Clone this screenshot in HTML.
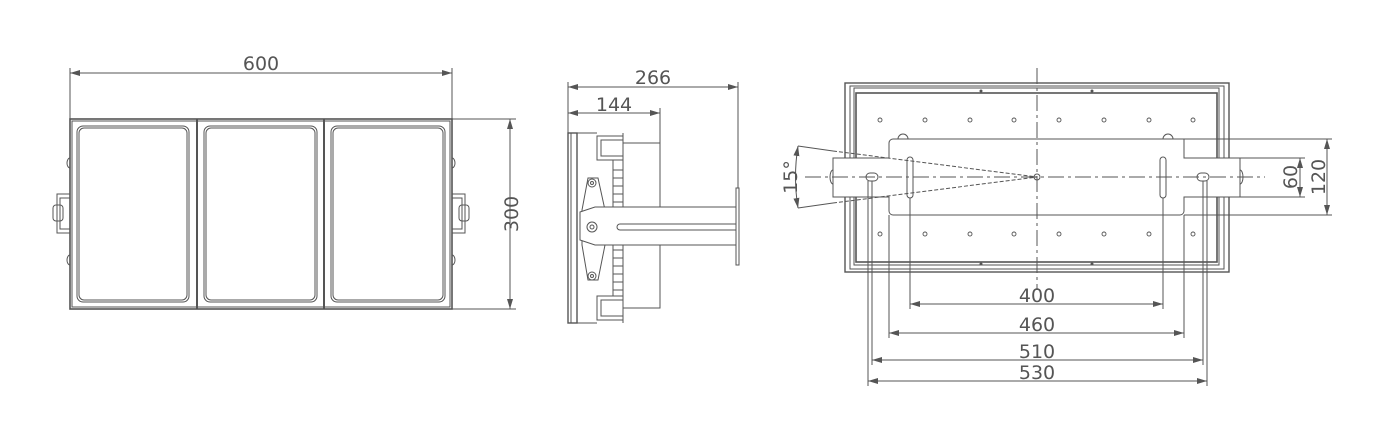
<!DOCTYPE html>
<html><head><meta charset="utf-8"><style>
html,body{margin:0;padding:0;background:#fff;}
svg{display:block}
text{font-family:"DejaVu Sans","Liberation Sans",sans-serif;fill:#555;stroke:none;font-size:19px}
</style></head><body>
<svg width="1395" height="434" viewBox="0 0 1395 434" xmlns="http://www.w3.org/2000/svg" fill="none" stroke="#555" stroke-width="1">
<defs>
<marker id="a" viewBox="0 0 10 6" refX="10" refY="3" markerWidth="10" markerHeight="6" orient="auto-start-reverse"><path d="M0,0 L10,3 L0,6 z" fill="#555" stroke="none"/></marker>
</defs>
<!-- FRONT VIEW -->
<line x1="70" y1="73" x2="452" y2="73" marker-start="url(#a)" marker-end="url(#a)"/>
<line x1="70" y1="68" x2="70" y2="119"/><line x1="452" y1="68" x2="452" y2="119"/>
<text x="261" y="70" text-anchor="middle">600</text>
<line x1="510" y1="119" x2="510" y2="309" marker-start="url(#a)" marker-end="url(#a)"/>
<line x1="452" y1="119" x2="516" y2="119"/><line x1="452" y1="309" x2="516" y2="309"/>
<text transform="translate(518,214) rotate(-90)" text-anchor="middle">300</text>
<rect x="70" y="119" width="382" height="190" stroke-width="1.6"/>
<rect x="72" y="121" width="378" height="186"/>
<line x1="197" y1="119" x2="197" y2="309" stroke-width="2"/>
<line x1="324" y1="119" x2="324" y2="309" stroke-width="2"/>
<rect x="77" y="126" width="112" height="176" rx="6"/><rect x="79" y="128" width="108" height="172" rx="5"/>
<rect x="204" y="126" width="113" height="176" rx="6"/><rect x="206" y="128" width="109" height="172" rx="5"/>
<rect x="331" y="126" width="114" height="176" rx="6"/><rect x="333" y="128" width="110" height="172" rx="5"/>
<rect x="57" y="194" width="13" height="39"/><rect x="60" y="198" width="10" height="31"/>
<rect x="53" y="205" width="10" height="16" rx="3"/>
<rect x="452" y="194" width="13" height="39"/><rect x="452" y="198" width="10" height="31"/>
<rect x="459" y="205" width="10" height="16" rx="3"/>
<path d="M70 158 a3 5 0 0 0 0 10 M70 255 a3 5 0 0 0 0 10 M452 158 a3 5 0 0 1 0 10 M452 255 a3 5 0 0 1 0 10"/>
<!-- SIDE VIEW -->
<line x1="568" y1="87" x2="738" y2="87" marker-start="url(#a)" marker-end="url(#a)"/>
<line x1="568" y1="82" x2="568" y2="133"/><line x1="738" y1="82" x2="738" y2="188"/>
<text x="653" y="84" text-anchor="middle">266</text>
<line x1="568" y1="113" x2="660" y2="113" marker-start="url(#a)" marker-end="url(#a)"/>
<line x1="660" y1="108" x2="660" y2="143"/>
<text x="614" y="111" text-anchor="middle">144</text>
<rect x="568" y="133" width="9" height="190" stroke-width="1.4"/>
<line x1="571" y1="133" x2="571" y2="323"/>
<rect x="597" y="136" width="26" height="24"/><rect x="601" y="140" width="22" height="16"/>
<rect x="597" y="296" width="26" height="24"/><rect x="601" y="300" width="22" height="16"/>
<path d="M577 133 H597 M577 323 H597 M613 160 V296 M623 133 V323"/>
<path d="M613 170 H623 M613 178 H623 M613 186 H623 M613 194 H623 M613 202 H623 M613 250 H623 M613 258 H623 M613 266 H623 M613 274 H623 M613 282 H623 M613 290 H623"/>
<rect x="623" y="143" width="37" height="165"/>
<path d="M588 178 L598 178 L605 210 L605 245 L598 280 L588 280 L582 245 L582 210 Z"/>
<circle cx="592" cy="183" r="4"/><circle cx="592" cy="183" r="1.5"/>
<circle cx="592" cy="276" r="4"/><circle cx="592" cy="276" r="1.5"/>
<path d="M580 212 L595 207 H736 V245 H595 L580 240 Z" fill="#fff"/>
<circle cx="592" cy="227" r="5"/><circle cx="592" cy="227" r="2"/>
<path d="M620 224 H736 M620 230 H736 M620 224 a3 3 0 0 0 0 6"/>
<rect x="736" y="188" width="3" height="77"/>
<!-- TOP VIEW -->
<rect x="845" y="83" width="384" height="189" stroke-width="1.4"/>
<rect x="850" y="86" width="374" height="183"/>
<rect x="854" y="88" width="365" height="177"/>
<rect x="856" y="93" width="361" height="169" stroke-width="1.6"/>
<g fill="#555" stroke="none"><circle cx="981" cy="91" r="1.5"/><circle cx="1092" cy="91" r="1.5"/><circle cx="981" cy="264" r="1.5"/><circle cx="1092" cy="264" r="1.5"/></g>
<g stroke-width="0.9">
<circle cx="880" cy="120" r="2"/><circle cx="925" cy="120" r="2"/><circle cx="970" cy="120" r="2"/><circle cx="1014" cy="120" r="2"/><circle cx="1059" cy="120" r="2"/><circle cx="1104" cy="120" r="2"/><circle cx="1149" cy="120" r="2"/><circle cx="1193" cy="120" r="2"/>
<circle cx="880" cy="234" r="2"/><circle cx="925" cy="234" r="2"/><circle cx="970" cy="234" r="2"/><circle cx="1014" cy="234" r="2"/><circle cx="1059" cy="234" r="2"/><circle cx="1104" cy="234" r="2"/><circle cx="1149" cy="234" r="2"/><circle cx="1193" cy="234" r="2"/>
</g>
<path d="M893 139 H1184 V158 H1240 V197 H1184 V211 a4 4 0 0 1 -4 4 H893 a4 4 0 0 1 -4 -4 V197 H833 V158 H889 V143 a4 4 0 0 1 4 -4 Z" fill="#fff"/>
<path d="M898 139 a5 5 0 0 1 10 0 M1163 139 a5 5 0 0 1 10 0"/>
<rect x="907" y="157" width="6" height="41" rx="3"/>
<rect x="1160" y="157" width="6" height="41" rx="3"/>
<rect x="866" y="173" width="12" height="8" rx="4"/>
<rect x="1197" y="173" width="12" height="8" rx="4"/>
<path d="M833 170 a3 7 0 0 0 0 14 M1240 170 a3 7 0 0 1 0 14"/>
<line x1="1037" y1="68" x2="1037" y2="290" stroke-dasharray="16,4,3,4"/>
<line x1="805" y1="177" x2="1265" y2="177" stroke-dasharray="16,4,3,4"/>
<circle cx="1037" cy="177" r="3"/>
<line x1="798" y1="146" x2="833" y2="151"/><line x1="833" y1="151" x2="1037" y2="177" stroke-dasharray="4,2"/>
<line x1="798" y1="208" x2="833" y2="203"/><line x1="833" y1="203" x2="1037" y2="177" stroke-dasharray="4,2"/>
<path d="M798 146 Q793 177 798 208" marker-start="url(#a)" marker-end="url(#a)"/>
<text transform="translate(797,177) rotate(-90)" text-anchor="middle">15°</text>
<line x1="1240" y1="158" x2="1305" y2="158"/><line x1="1240" y1="197" x2="1305" y2="197"/>
<line x1="1300" y1="158" x2="1300" y2="197" marker-start="url(#a)" marker-end="url(#a)"/>
<text transform="translate(1297,177) rotate(-90)" text-anchor="middle">60</text>
<line x1="1184" y1="139" x2="1332" y2="139"/><line x1="1184" y1="215" x2="1332" y2="215"/>
<line x1="1327" y1="139" x2="1327" y2="215" marker-start="url(#a)" marker-end="url(#a)"/>
<text transform="translate(1325,177) rotate(-90)" text-anchor="middle">120</text>
<line x1="910" y1="198" x2="910" y2="309"/><line x1="1163" y1="198" x2="1163" y2="309"/>
<line x1="910" y1="304" x2="1163" y2="304" marker-start="url(#a)" marker-end="url(#a)"/>
<text x="1037" y="302" text-anchor="middle">400</text>
<line x1="889" y1="215" x2="889" y2="338"/><line x1="1184" y1="215" x2="1184" y2="338"/>
<line x1="889" y1="333" x2="1184" y2="333" marker-start="url(#a)" marker-end="url(#a)"/>
<text x="1037" y="331" text-anchor="middle">460</text>
<line x1="872" y1="181" x2="872" y2="365"/><line x1="1203" y1="181" x2="1203" y2="365"/>
<line x1="872" y1="360" x2="1203" y2="360" marker-start="url(#a)" marker-end="url(#a)"/>
<text x="1037" y="358" text-anchor="middle">510</text>
<line x1="868" y1="181" x2="868" y2="386"/><line x1="1207" y1="181" x2="1207" y2="386"/>
<line x1="868" y1="381" x2="1207" y2="381" marker-start="url(#a)" marker-end="url(#a)"/>
<text x="1037" y="379" text-anchor="middle">530</text>
</svg>
</body></html>
